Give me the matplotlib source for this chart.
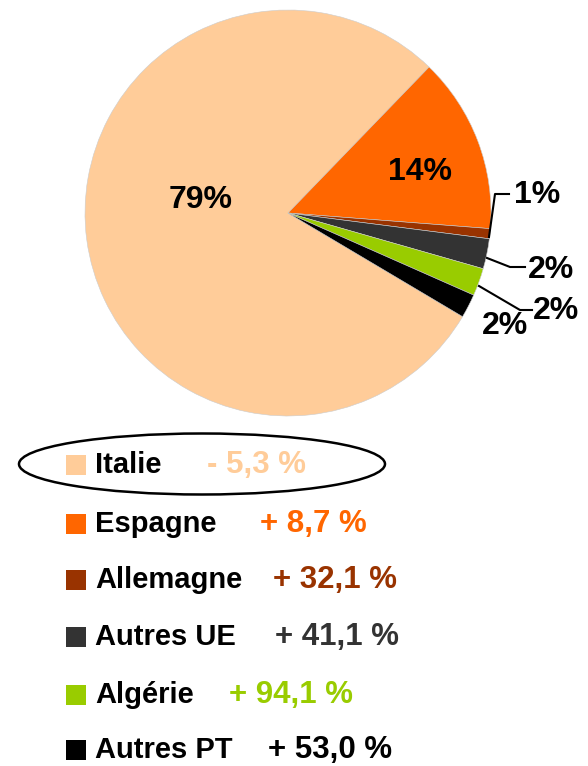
import matplotlib.pyplot as plt
from matplotlib.patches import Ellipse, Rectangle

plt.rcParams['font.family'] = ['Liberation Sans', 'DejaVu Sans']

categories = ['Italie', 'Espagne', 'Allemagne', 'Autres UE', 'Algérie', 'Autres PT']
shares = [78.7, 14.0, 0.8, 2.4, 2.2, 1.9]
pct_labels = ['79%', '14%', '1%', '2%', '2%', '2%']
changes = ['- 5,3 %', '+ 8,7 %', '+ 32,1 %', '+ 41,1 %', '+ 94,1 %', '+ 53,0 %']
colors = ['#FFCC99', '#FF6600', '#993300', '#333333', '#99CC00', '#000000']

W, H = 588, 766
fig = plt.figure(figsize=(W / 100, H / 100), dpi=100)
ax = fig.add_axes([0, 0, 1, 1])


def Y(py):
    return H - py


ax.pie(shares, colors=colors, startangle=-30.7, counterclock=False,
       center=(288, Y(213)), radius=203, frame=True,
       wedgeprops=dict(linewidth=0.4, edgecolor='#cccccc'))
ax.set_xlim(0, W)
ax.set_ylim(0, H)
ax.set_aspect('equal')
ax.axis('off')

# slice labels
lab_pos = [(201, 200, 'center'), (420, 172, 'center'), (514, 195, 'left'),
           (528, 270, 'left'), (533, 311, 'left'), (505, 326, 'center')]
for (x, y, ha), t in zip(lab_pos, pct_labels):
    ax.text(x, Y(y), t, fontsize=23, fontweight='bold', ha=ha, va='center')

# leader lines
leaders = [[(489, 237), (495, 194), (509, 194)],
           [(487, 258), (510, 267), (525, 267)],
           [(479, 286), (520, 310), (532, 310)]]
for pts in leaders:
    ax.plot([p[0] for p in pts], [Y(p[1]) for p in pts], color='black', lw=1.5)

# legend
rows_y = [465, 524, 580, 637, 695, 750]
change_x = [207, 260, 273, 275, 229, 268]
for i, cat in enumerate(categories):
    y = rows_y[i]
    ax.add_patch(Rectangle((66, Y(y) - 10), 20, 20, color=colors[i], lw=0))
    ax.text(95, Y(y), cat, fontsize=21, fontweight='bold', ha='left', va='center')
    ax.text(change_x[i], Y(y), changes[i], fontsize=22.5, fontweight='bold',
            color=colors[i], ha='left', va='center')

ax.add_patch(Ellipse((202, Y(464)), 366, 61, fill=False, edgecolor='black', lw=1.8))

fig.savefig('out.png', dpi=100)
